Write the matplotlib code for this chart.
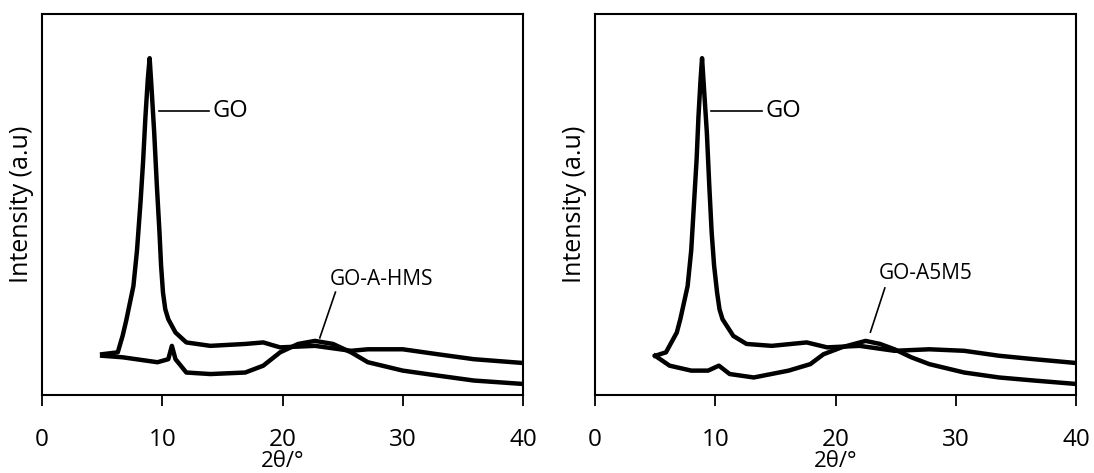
import matplotlib
matplotlib.use("Agg")
import matplotlib.pyplot as plt

plt.rcParams['font.family'] = ['Open Sans', 'DejaVu Sans']

# Left panel: GO and GO-A-HMS
go_left_x = [5.0, 6.3, 6.7, 7.0, 7.6, 7.9, 8.2, 8.4, 8.6, 8.8, 8.95, 9.1, 9.33, 9.55, 9.77, 9.9, 10.06, 10.25, 10.5, 11.1, 12.0, 14.0, 16.9, 18.4, 19.8, 22.7, 25.7, 27.1, 30.0, 32.9, 35.9, 40.0]
go_left_y = [10.7, 11.2, 15.5, 19.5, 28.6, 38.0, 51.0, 61.0, 73.0, 83.0, 88.4, 81.0, 68.8, 55.0, 42.6, 34.0, 26.9, 22.5, 19.9, 16.4, 13.8, 12.9, 13.4, 13.8, 12.5, 12.9, 11.6, 12.0, 12.0, 10.7, 9.4, 8.4]

hms_x = [5.0, 6.7, 9.6, 10.5, 10.8, 11.1, 12.0, 14.0, 16.9, 18.4, 19.8, 21.3, 22.7, 24.2, 25.7, 27.1, 30.0, 32.9, 35.9, 40.0]
hms_y = [10.3, 9.9, 8.6, 9.4, 12.9, 9.4, 5.9, 5.5, 5.9, 7.7, 11.2, 13.4, 14.2, 13.4, 11.2, 8.6, 6.4, 5.1, 3.8, 2.9]

# Right panel: GO and GO-A5M5
go_right_x = [5.0, 5.9, 6.8, 7.1, 7.7, 8.0, 8.25, 8.45, 8.6, 8.78, 8.9, 9.05, 9.3, 9.5, 9.7, 9.9, 10.15, 10.35, 10.6, 11.5, 12.6, 14.7, 17.6, 19.3, 22.0, 24.9, 27.8, 30.7, 33.6, 36.5, 40.0]
go_right_y = [10.3, 11.2, 16.4, 20.0, 28.6, 38.0, 51.3, 62.0, 73.0, 83.0, 88.4, 81.0, 68.8, 55.0, 42.6, 34.0, 26.9, 22.5, 19.9, 15.5, 13.4, 12.9, 13.8, 12.5, 12.9, 11.6, 12.0, 11.6, 10.3, 9.4, 8.4]

a5m5_x = [5.0, 6.2, 8.0, 9.4, 10.3, 11.2, 13.2, 16.1, 17.9, 19.0, 20.5, 22.5, 23.7, 24.9, 26.3, 27.8, 30.7, 33.6, 36.5, 40.0]
a5m5_y = [10.3, 7.7, 6.4, 6.4, 7.7, 5.5, 4.6, 6.4, 8.1, 10.7, 12.5, 14.2, 13.4, 12.0, 9.9, 8.1, 5.9, 4.6, 3.8, 2.9]

x_ticks = [0, 10, 20, 30, 40]
x_label = "2θ/°"
y_label = "Intensity (a.u)"

panels = [
    dict(go=(go_left_x, go_left_y), other=(hms_x, hms_y), name="GO-A-HMS",
         pos=[0.0384, 0.1649, 0.4397, 0.8055],
         go_line=(9.7, 13.9, 74.6), go_text=(14.2, 74.6),
         lead=((23.1, 15.0), (24.4, 27.0)), lead_text=(23.9, 30.2)),
    dict(go=(go_right_x, go_right_y), other=(a5m5_x, a5m5_y), name="GO-A5M5",
         pos=[0.5439, 0.1649, 0.4397, 0.8055],
         go_line=(9.65, 13.9, 74.6), go_text=(14.2, 74.6),
         lead=((22.9, 16.5), (24.1, 28.1)), lead_text=(23.6, 32.0)),
]

fig = plt.figure(figsize=(10.94, 4.73), dpi=100)
for p in panels:
    ax = fig.add_axes(p['pos'])
    ax.plot(*p['go'], color='black', lw=3.2, solid_joinstyle='round')
    ax.plot(*p['other'], color='black', lw=3.2, solid_joinstyle='round')
    ax.set_xlim(0, 40)
    ax.set_ylim(0, 100)
    ax.set_xticks(x_ticks)
    ax.set_yticks([])
    ax.tick_params(axis='x', direction='out', length=8, width=1.3, pad=16, labelsize=17.5)
    for s in ax.spines.values():
        s.set_linewidth(1.5)
    ax.set_xlabel(x_label, fontsize=16, labelpad=-1)
    ax.set_ylabel(y_label, fontsize=18, labelpad=6)
    x0, x1, yl = p['go_line']
    ax.plot([x0, x1], [yl, yl], color='black', lw=1.2)
    ax.text(p['go_text'][0], p['go_text'][1], "GO", fontsize=17, va='center', ha='left')
    (lx0, ly0), (lx1, ly1) = p['lead']
    ax.plot([lx0, lx1], [ly0, ly1], color='black', lw=1.2)
    ax.text(p['lead_text'][0], p['lead_text'][1], p['name'], fontsize=15, va='center', ha='left')

fig.savefig("out.png", dpi=100)
